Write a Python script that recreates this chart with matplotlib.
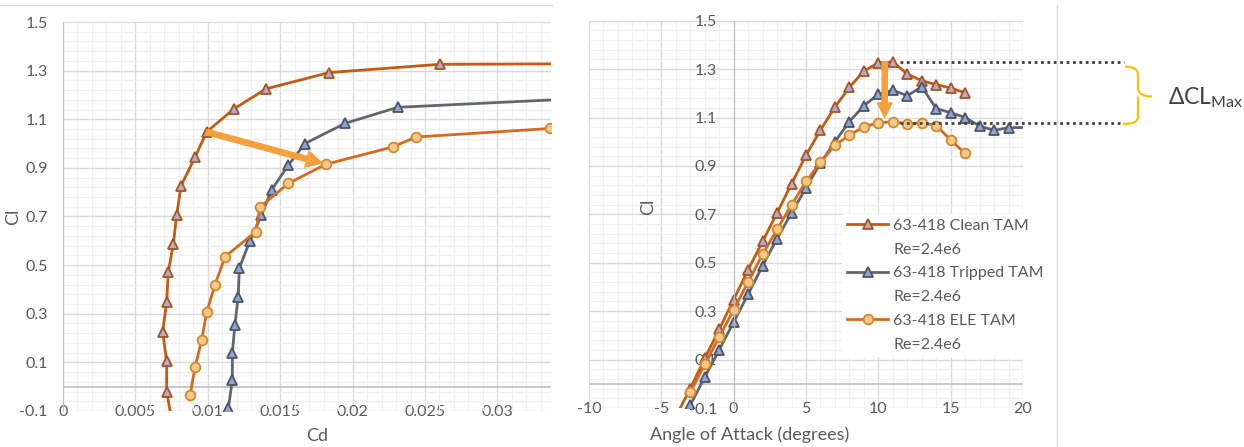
import matplotlib.pyplot as plt
import numpy as np
from matplotlib.ticker import FixedLocator, MultipleLocator
from matplotlib.path import Path
from matplotlib.patches import PathPatch
from matplotlib.lines import Line2D

plt.rcParams['font.family'] = ['Lato', 'DejaVu Sans']

# 63-418 polars, Re = 2.4e6
alpha_clean = [-4, -3, -2, -1, 0, 1, 2, 3, 4, 5, 6, 7, 8, 9, 10, 11, 12, 13, 14, 15, 16]
cl_clean = [-0.135, -0.02, 0.105, 0.225, 0.348, 0.471, 0.588, 0.706, 0.826, 0.944, 1.048,
            1.143, 1.225, 1.292, 1.326, 1.33, 1.28, 1.252, 1.236, 1.222, 1.202]
cd_clean = [0.0075, 0.00716, 0.00716, 0.00688, 0.00716, 0.00727, 0.00762, 0.00785, 0.00815,
            0.00912, 0.00992, 0.01181, 0.01402, 0.01837, 0.02604, 0.045, 0.060, 0.070, 0.080,
            0.090, 0.100]

alpha_trip = [-3, -2, -1, 0, 1, 2, 3, 4, 5, 6, 7, 8, 9, 10, 11, 12, 13, 14, 15, 16, 17, 18, 19, 21]
cl_trip = [-0.088, 0.027, 0.14, 0.255, 0.37, 0.488, 0.60, 0.705, 0.81, 0.911, 1.0, 1.083,
           1.149, 1.196, 1.213, 1.19, 1.227, 1.137, 1.12, 1.10, 1.065, 1.047, 1.058, 1.06]
cd_trip = [0.01142, 0.01169, 0.0117, 0.01187, 0.0121, 0.01218, 0.01291, 0.0137, 0.01441,
           0.01556, 0.01671, 0.01947, 0.02311, 0.0395, 0.050, 0.060, 0.070, 0.080, 0.090,
           0.100, 0.110, 0.120, 0.130, 0.140]

alpha_ele = [-3, -2, -1, 0, 1, 2, 3, 4, 5, 6, 7, 8, 9, 10, 11, 12, 13, 14, 15, 16]
cl_ele = [-0.035, 0.08, 0.193, 0.306, 0.42, 0.535, 0.638, 0.739, 0.836, 0.915, 0.986, 1.027,
          1.062, 1.078, 1.083, 1.074, 1.078, 1.067, 1.007, 0.952]
cd_ele = [0.00877, 0.00912, 0.00958, 0.00992, 0.0105, 0.01119, 0.01333, 0.0136, 0.01556,
          0.01816, 0.02277, 0.02438, 0.03363, 0.045, 0.055, 0.065, 0.075, 0.085, 0.095, 0.105]

labels = ['63-418 Clean TAM', '63-418 Tripped TAM', '63-418 ELE TAM']

styles = [
    dict(color='#C55A11', marker='^', ms=7.5, mfc='#ABADD3', mec='#B0501A', mew=1.3),
    dict(color='#5F6670', marker='^', ms=7.5, mfc='#8EA4CF', mec='#4A5568', mew=1.3),
    dict(color='#D9681E', marker='o', ms=7, mfc='#F8C88A', mec='#D08A2A', mew=1.3),
]

TXT = '#595959'
W, H = 1244, 447
fig = plt.figure(figsize=(W / 100, H / 100), dpi=100)


def fx(px):
    return px / W


def fy(py):
    return 1 - py / H


ax1 = fig.add_axes([fx(63), fy(411), (551 - 63) / W, (411 - 22) / H])
ax2 = fig.add_axes([fx(589), fy(408), (1023 - 589) / W, (408 - 20.7) / H])

yticks = np.arange(-0.1, 1.51, 0.2)
for ax in (ax1, ax2):
    ax.set_ylim(-0.1, 1.5)
    ax.yaxis.set_major_locator(FixedLocator(yticks))
    ax.yaxis.set_minor_locator(FixedLocator(np.arange(-0.1, 1.51, 0.04)))
    ax.set_yticklabels([f'{v:.1f}' for v in yticks])
    ax.grid(which='major', color='#D9D9D9', lw=1.0)
    ax.grid(which='minor', color='#EFEFEF', lw=0.9)
    ax.set_axisbelow(True)
    for s in ('top', 'right', 'bottom'):
        ax.spines[s].set_visible(False)
    ax.spines['left'].set_color('#BFBFBF')
    ax.axhline(0, color='#BFBFBF', lw=1.2, zorder=1)
    ax.tick_params(which='both', length=0, labelsize=11.5, labelcolor=TXT)
    ax.tick_params(axis='x', pad=-4.5)

# drag polar
ax1.set_xlim(0, 0.0337)
cd_ticks = np.arange(0, 0.0301, 0.005)
ax1.xaxis.set_major_locator(FixedLocator(cd_ticks))
ax1.xaxis.set_minor_locator(MultipleLocator(0.001))
ax1.set_xticklabels([f'{v:g}' for v in cd_ticks])
ax1.tick_params(axis='y', pad=11)
ax1.set_xlabel('Cd', fontsize=13, color=TXT)
ax1.xaxis.set_label_coords(0.52, -0.044)
ax1.set_ylabel('Cl', fontsize=13, color=TXT)
ax1.yaxis.set_label_coords(-0.085, 0.5)

ax1.plot(cd_clean, cl_clean, lw=2, **styles[0])
ax1.plot(cd_trip, cl_trip, lw=2, **styles[1])
ax1.plot(cd_ele, cl_ele, lw=2, **styles[2])

arrow_kw = dict(arrowstyle='simple,head_width=0.85,head_length=0.8,tail_width=0.27',
                mutation_scale=14, color='#F5A03C', shrinkA=0, shrinkB=3)
ax1.annotate('', xy=(cd_ele[9], cl_ele[9]), xytext=(cd_clean[10], cl_clean[10]),
             arrowprops=arrow_kw, zorder=6)

# lift curve
ax2.set_xlim(-10, 20)
aoa_ticks = np.arange(-10, 21, 5)
ax2.xaxis.set_major_locator(FixedLocator(aoa_ticks))
ax2.xaxis.set_minor_locator(MultipleLocator(1))
ax2.set_xticklabels([f'{v:d}' for v in aoa_ticks])
ax2.spines['left'].set_position(('data', 0))
ax2.tick_params(axis='y', pad=12)
ax2.set_xlabel('Angle of Attack (degrees)', fontsize=13, color=TXT)
ax2.xaxis.set_label_coords(0.369, -0.048)
ax2.set_ylabel('Cl', fontsize=13, color=TXT)
ax2.yaxis.set_label_coords(0.155, 0.519)

h1, = ax2.plot(alpha_clean, cl_clean, lw=2, **styles[0])
h2, = ax2.plot(alpha_trip, cl_trip, lw=2, **styles[1])
h3, = ax2.plot(alpha_ele, cl_ele, lw=2, **styles[2])

blank = Line2D([], [], linestyle='none')
ax2.legend([h1, blank, h2, blank, h3, blank],
           [labels[0], 'Re=2.4e6', labels[1], 'Re=2.4e6', labels[2], 'Re=2.4e6'],
           loc='upper left', bbox_to_anchor=(fx(834), fy(206)), bbox_transform=fig.transFigure,
           frameon=True, facecolor='white', edgecolor='none', framealpha=1, fancybox=False,
           fontsize=11.5, labelcolor=TXT, handlelength=2.6, handletextpad=0.3,
           labelspacing=0.6, borderpad=0.3)

# drop in maximum lift
cl_top = max(cl_clean)
cl_low = max(cl_ele)
ax2.annotate('', xy=(10.44, cl_low), xytext=(10.44, cl_top),
             arrowprops=dict(arrowstyle='simple,head_width=0.75,head_length=0.75,tail_width=0.27',
                             mutation_scale=14, color='#F5A03C', shrinkA=0, shrinkB=-3), zorder=6)
for y in (cl_top, cl_low - 0.006):
    ax2.plot([11.5, 26.97], [y, y], color='#404040', lw=2,
             ls=(0, (1, 1.3)), dash_capstyle='butt', clip_on=False, zorder=4)

brace = [(1125, 66.7), (1138, 66.7), (1138, 74), (1138, 88), (1138, 96.5), (1152, 96.5),
         (1138, 96.5), (1138, 105), (1138, 117), (1138, 124), (1123, 124)]
codes = [Path.MOVETO, Path.CURVE3, Path.CURVE3, Path.LINETO, Path.CURVE3, Path.CURVE3,
         Path.MOVETO, Path.CURVE3, Path.LINETO, Path.CURVE3, Path.CURVE3]
fig.patches.append(PathPatch(Path([(fx(x), fy(y)) for x, y in brace], codes),
                             transform=fig.transFigure, fill=False, ec='#FFC000', lw=1.6))
fig.text(fx(1168), fy(104), 'ΔCL$_\\mathregular{Max}$', fontsize=16.5, color='#404040',
         ha='left', va='baseline')

# chart frames
fig.add_artist(Line2D([0, fx(552)], [fy(5), fy(5)], color='#D9D9D9', lw=1))
fig.add_artist(Line2D([fx(1057), fx(1057)], [fy(5), 0], color='#D9D9D9', lw=1))

fig.savefig('out.png', dpi=100)
